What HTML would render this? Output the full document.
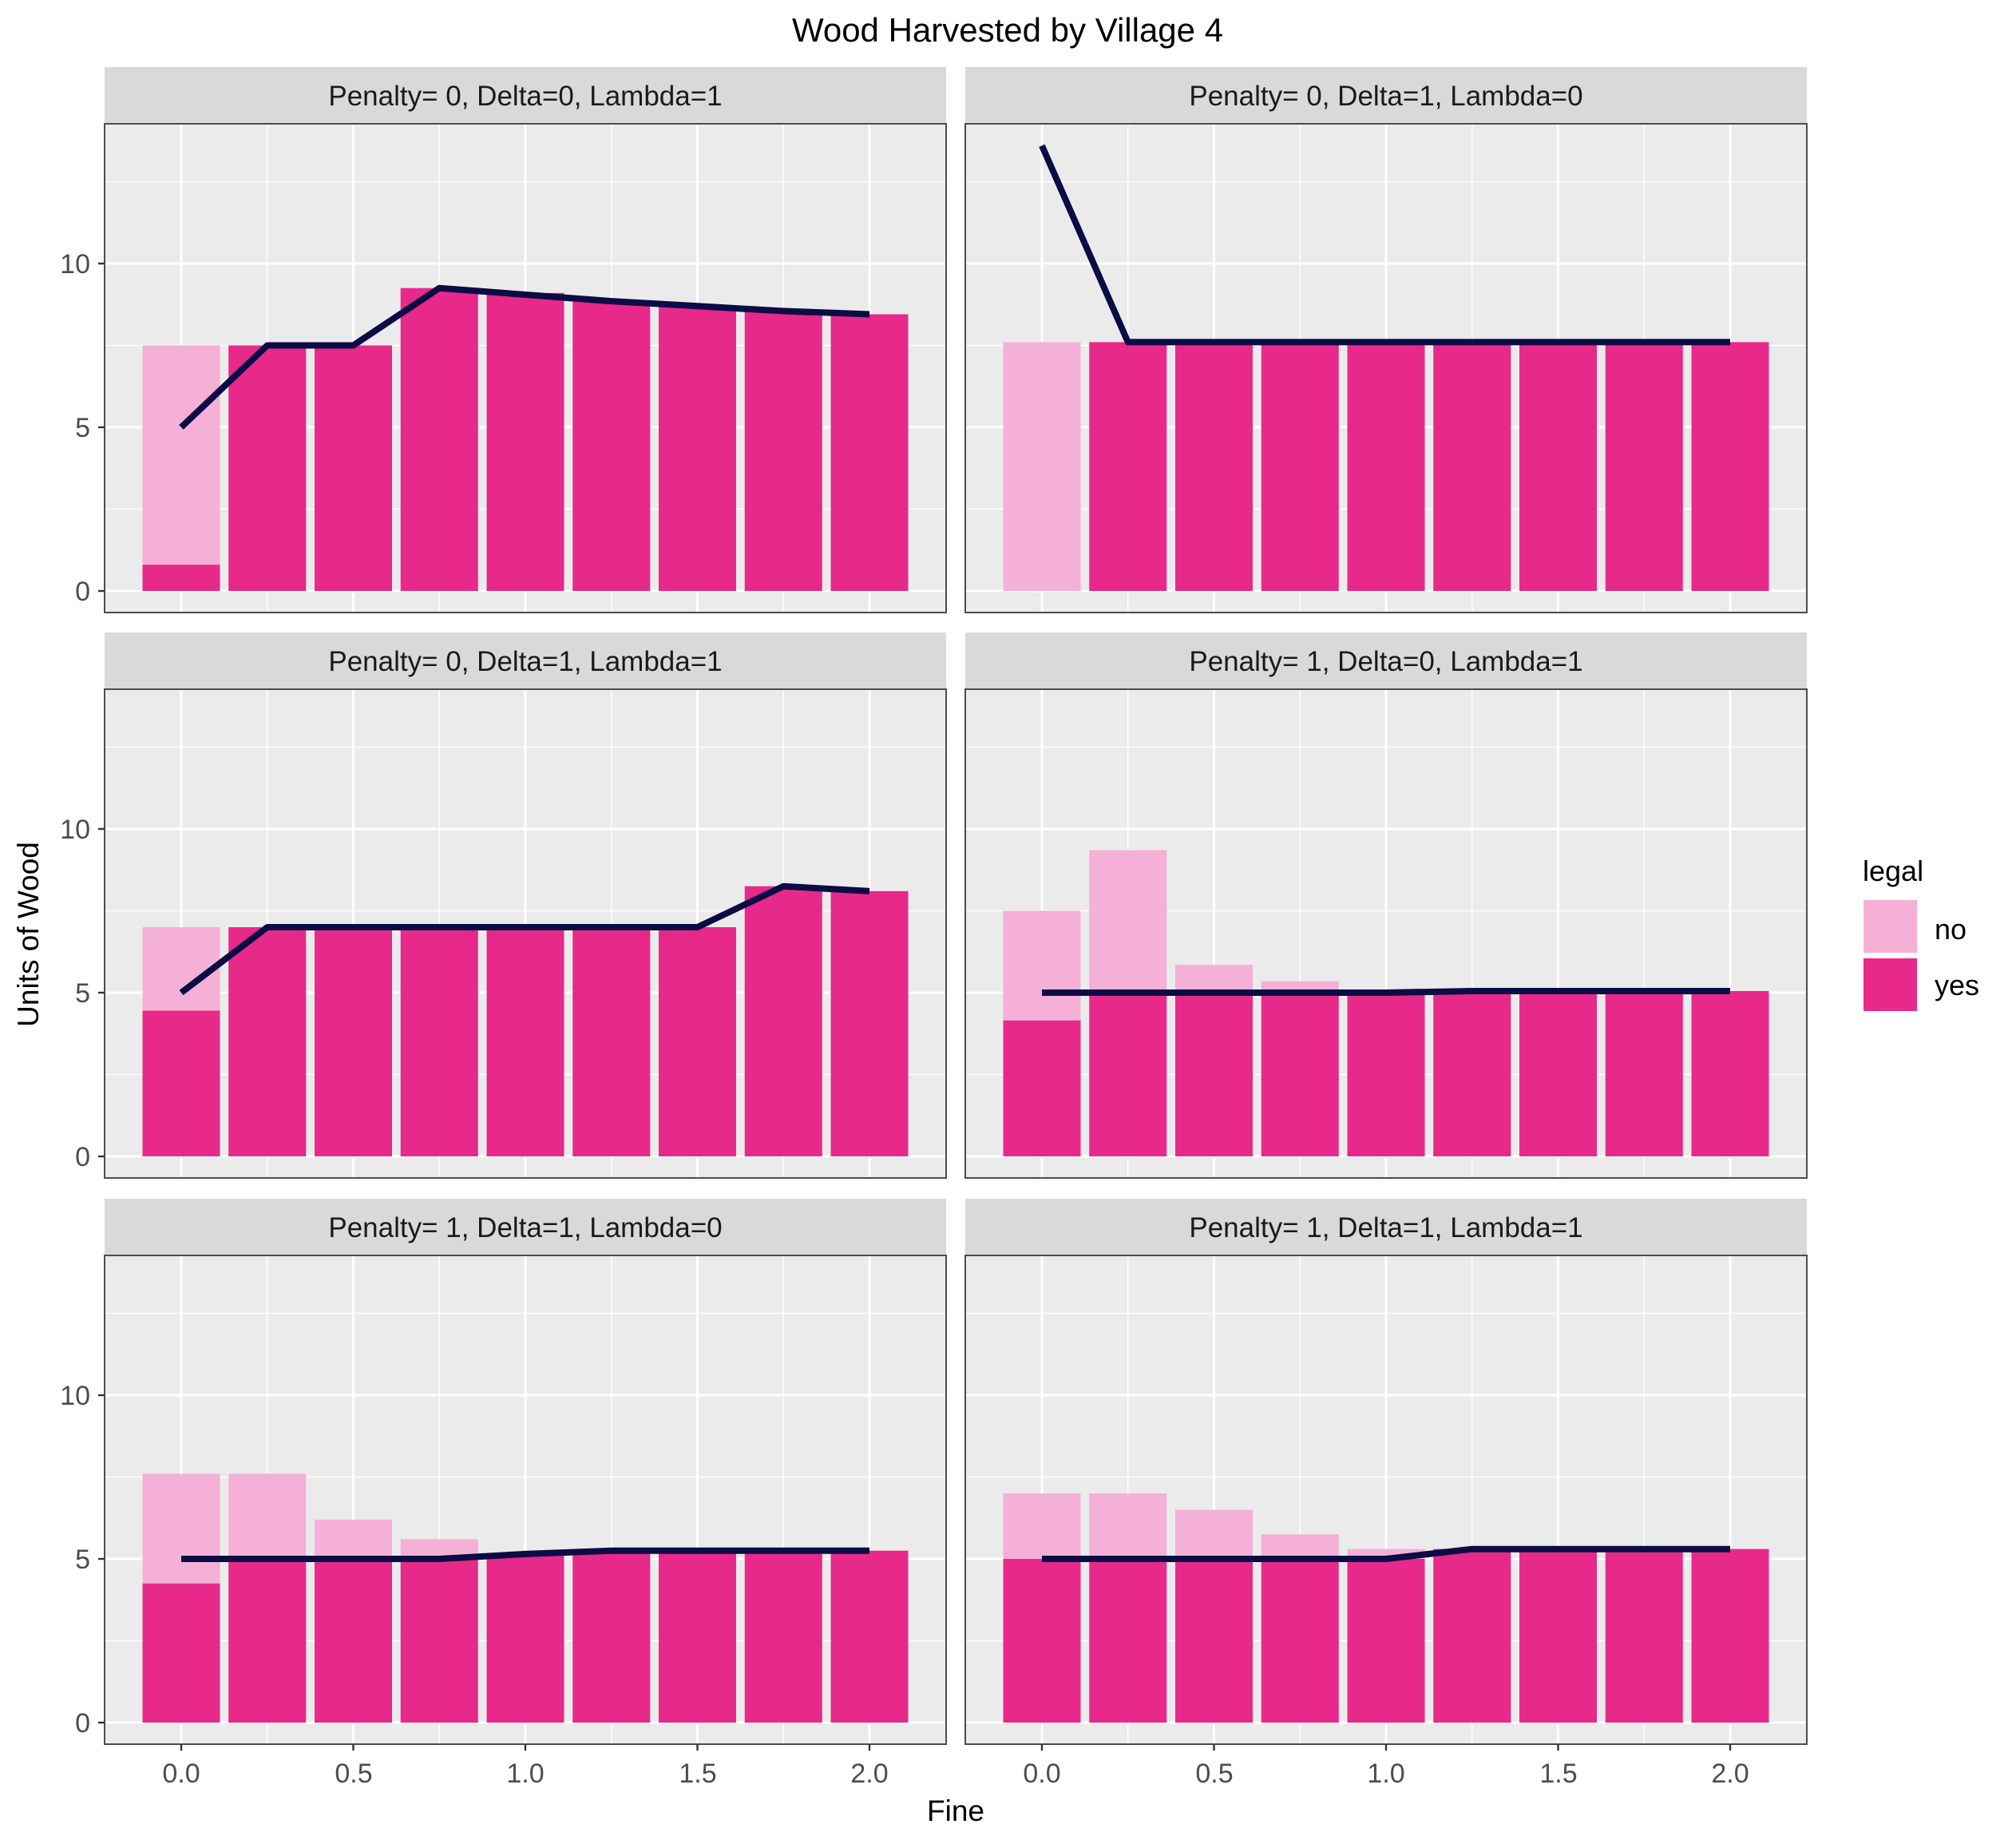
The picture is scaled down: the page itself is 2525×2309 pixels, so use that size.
<!DOCTYPE html>
<html><head><meta charset="utf-8"><style>
html,body{margin:0;padding:0;background:#fff;}
svg{display:block;font-family:"Liberation Sans",Arial,sans-serif;}
</style></head><body>
<svg id="s" width="2525" height="2309" viewBox="0 0 2525 2309" xmlns="http://www.w3.org/2000/svg">
<rect width="2525" height="2309" fill="#fff"/>
<g id="g"></g>
<text x="1262" y="52" font-size="42" text-anchor="middle" fill="#000">Wood Harvested by Village 4</text>
<g font-size="35" fill="#1a1a1a" text-anchor="middle">
<text x="658" y="132">Penalty= 0, Delta=0, Lambda=1</text>
<text x="1736" y="132">Penalty= 0, Delta=1, Lambda=0</text>
<text x="658" y="840">Penalty= 0, Delta=1, Lambda=1</text>
<text x="1736" y="840">Penalty= 1, Delta=0, Lambda=1</text>
<text x="658" y="1549">Penalty= 1, Delta=1, Lambda=0</text>
<text x="1736" y="1549">Penalty= 1, Delta=1, Lambda=1</text>
</g>
<g font-size="34" fill="#4d4d4d" text-anchor="end">
<text x="113" y="752">0</text><text x="113" y="547">5</text><text x="113" y="342">10</text>
<text x="113" y="1460">0</text><text x="113" y="1255">5</text><text x="113" y="1050">10</text>
<text x="113" y="2169">0</text><text x="113" y="1964">5</text><text x="113" y="1759">10</text>
</g>
<g font-size="34" fill="#4d4d4d" text-anchor="middle">
<text x="227" y="2232">0.0</text><text x="443" y="2232">0.5</text><text x="658" y="2232">1.0</text><text x="874" y="2232">1.5</text><text x="1089" y="2232">2.0</text>
<text x="1305" y="2232">0.0</text><text x="1521" y="2232">0.5</text><text x="1736" y="2232">1.0</text><text x="1952" y="2232">1.5</text><text x="2167" y="2232">2.0</text>
</g>
<text x="1197" y="2280" font-size="37" text-anchor="middle" fill="#000">Fine</text>
<text transform="translate(48,1170) rotate(-90)" font-size="37" text-anchor="middle" fill="#000">Units of Wood</text>
<text x="2333" y="1103" font-size="36" fill="#000">legal</text>
<rect x="2334" y="1127" width="67" height="66" fill="#F4B0D6"/>
<rect x="2334" y="1200" width="67" height="66" fill="#E7298A"/>
<text x="2423" y="1176" font-size="36" fill="#000">no</text>
<text x="2423" y="1246" font-size="36" fill="#000">yes</text>
</svg>
<script>
var g=document.getElementById('g');var ns='http://www.w3.org/2000/svg';
function el(t,a){var e=document.createElementNS(ns,t);for(var k in a)e.setAttribute(k,a[k]);g.appendChild(e);return e;}
var cols=[131,1209],rows=[155,863,1572],W=1054,H=612;
var P=[
{no:[7.5,7.5,7.5,9.25,9.1,8.85,8.7,8.55,8.45],yes:[0.8,7.5,7.5,9.25,9.1,8.85,8.7,8.55,8.45],line:[5,7.5,7.5,9.25,9.05,8.85,8.7,8.55,8.45]},
{no:[7.6,7.6,7.6,7.6,7.6,7.6,7.6,7.6,7.6],yes:[0,7.6,7.6,7.6,7.6,7.6,7.6,7.6,7.6],line:[13.6,7.6,7.6,7.6,7.6,7.6,7.6,7.6,7.6]},
{no:[7,7,7,7,7,7,7,8.25,8.1],yes:[4.45,7,7,7,7,7,7,8.25,8.1],line:[5,7,7,7,7,7,7,8.25,8.1]},
{no:[7.5,9.35,5.85,5.35,5,5.05,5.05,5.05,5.05],yes:[4.15,5,5,5,5,5.05,5.05,5.05,5.05],line:[5,5,5,5,5,5.05,5.05,5.05,5.05]},
{no:[7.6,7.6,6.2,5.6,5.15,5.25,5.25,5.25,5.25],yes:[4.25,5,5,5,5.15,5.25,5.25,5.25,5.25],line:[5,5,5,5,5.15,5.25,5.25,5.25,5.25]},
{no:[7,7,6.5,5.75,5.3,5.3,5.3,5.3,5.3],yes:[5,5,5,5,5,5.3,5.3,5.3,5.3],line:[5,5,5,5,5,5.3,5.3,5.3,5.3]}];
for(var i=0;i<6;i++){
 var L=cols[i%2],T=rows[Math.floor(i/2)],d=P[i];
 var X=function(v){return L+96+v*431;},Y=function(v){return T+585-v*41;};
 el('rect',{x:L,y:T-71,width:W,height:71,fill:'#D9D9D9'});
 el('rect',{x:L,y:T,width:W,height:H,fill:'#EBEBEB'});
 [2.5,7.5,12.5].forEach(function(v){el('rect',{x:L,y:Y(v)-0.7,width:W,height:1.4,fill:'#fff'});});
 [0.25,0.75,1.25,1.75].forEach(function(v){el('rect',{x:X(v)-0.7,y:T,width:1.4,height:H,fill:'#fff'});});
 [0,5,10].forEach(function(v){el('rect',{x:L,y:Y(v)-1.5,width:W,height:3,fill:'#fff'});});
 [0,0.5,1,1.5,2].forEach(function(v){el('rect',{x:X(v)-1.5,y:T,width:3,height:H,fill:'#fff'});});
 for(var j=0;j<9;j++){var x=X(j*0.25)-48.5;
  el('rect',{x:x,y:Y(d.no[j]),width:97,height:d.no[j]*41,fill:'#F4B0D6'});
  if(d.yes[j]>0)el('rect',{x:x,y:Y(d.yes[j]),width:97,height:d.yes[j]*41,fill:'#E7298A'});}
 var pts=d.line.map(function(v,j){return X(j*0.25)+','+Y(v);}).join(' ');
 el('polyline',{points:pts,fill:'none',stroke:'#0B0B45','stroke-width':8,'stroke-linejoin':'round'});
 el('rect',{x:L,y:T,width:W,height:H,fill:'none',stroke:'#4d4d4d','stroke-width':2});
 if(i%2==0)[0,5,10].forEach(function(v){el('rect',{x:L-8,y:Y(v)-1.2,width:8,height:2.4,fill:'#333'});});
 if(i>=4)[0,0.5,1,1.5,2].forEach(function(v){el('rect',{x:X(v)-1.2,y:T+H,width:2.4,height:8,fill:'#333'});});
}
</script>
</body></html>
